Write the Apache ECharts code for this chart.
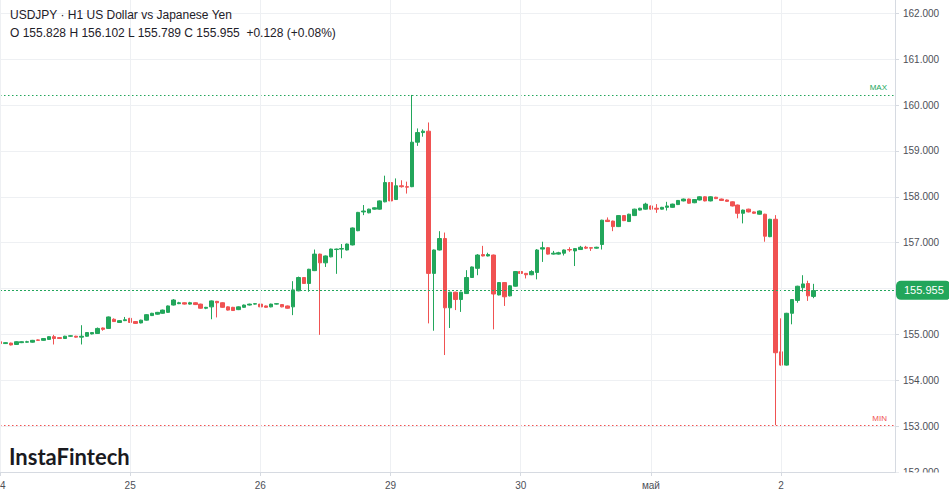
<!DOCTYPE html>
<html><head><meta charset="utf-8">
<script src="https://cdn.jsdelivr.net/npm/echarts@6/dist/echarts.min.js"></script>
<style>html,body{margin:0;padding:0;background:#fff;overflow:hidden}#c{width:949px;height:494px}</style>
</head><body><div id="c"></div>
<script>
// ---- data ----
const titleLine1 = 'USDJPY · H1 US Dollar vs Japanese Yen';
const titleLine2 = 'O 155.828 H 156.102 L 155.789 C 155.955  +0.128 (+0.08%)';
const brandText = 'InstaFintech';
const dayLabels = ['24', '25', '26', '29', '30', 'май', '2'];
const dayStartIndex = [0, 24, 48, 72, 96, 120, 144];
const slotCount = 166;
const yMin = 152, yMax = 162.29, yStep = 1;

const opens = [
154.84,154.80,154.81,154.78,154.82,154.83,154.83,154.88,154.87,154.89,
154.95,154.93,154.91,154.96,154.96,154.94,154.96,155.01,155.02,155.14,
155.13,155.33,155.26,155.30,155.35,155.28,155.25,155.31,155.41,155.44,
155.46,155.48,155.64,155.67,155.69,155.66,155.69,155.66,155.57,155.60,
155.72,155.69,155.60,155.59,155.54,155.59,155.64,155.66,155.66,155.62,
155.60,155.66,155.65,155.62,155.60,155.95,156.24,156.11,156.39,156.75,
156.56,156.69,156.85,156.86,156.84,156.95,157.26,157.67,157.65,157.73,
157.73,157.89,158.31,157.94,158.24,158.22,158.22,159.19,159.40,159.43,
156.33,156.84,157.09,155.58,155.92,155.76,155.89,156.24,156.44,156.74,
156.71,156.73,155.86,156.13,155.84,156.05,156.37,156.33,156.30,156.35,
156.86,156.89,156.75,156.75,156.77,156.85,156.82,156.85,156.90,156.89,
156.88,156.96,157.49,157.47,157.35,157.59,157.46,157.59,157.71,157.73,
157.80,157.75,157.73,157.77,157.77,157.83,157.91,157.95,157.87,157.93,
158.00,157.91,157.99,157.95,157.93,157.89,157.82,157.64,157.73,157.67,
157.62,157.62,157.13,157.51,154.62,154.33,155.46,155.74,156.02,156.11,
155.828];
const highs = [
154.85,154.83,154.82,154.85,154.85,154.86,154.88,154.89,154.92,154.96,
154.99,154.94,154.97,154.98,154.97,155.20,155.05,155.05,155.15,155.15,
155.39,155.35,155.31,155.38,155.36,155.29,155.32,155.44,155.47,155.49,
155.54,155.63,155.77,155.71,155.70,155.71,155.70,155.67,155.60,155.74,
155.73,155.70,155.61,155.60,155.61,155.65,155.67,155.68,155.67,155.63,
155.67,155.68,155.66,155.63,156.16,156.26,156.25,156.43,156.85,156.76,
156.72,156.87,156.87,156.97,156.98,157.33,157.67,157.82,157.74,157.77,
157.92,158.46,159.17,158.40,158.36,158.33,160.22,159.49,159.47,159.62,
156.85,157.25,157.22,155.93,155.93,155.93,156.40,156.48,156.75,156.93,
156.78,156.74,156.14,156.14,156.07,156.38,156.38,156.34,156.40,156.86,
157.02,156.90,156.82,156.80,156.85,156.90,156.88,156.93,156.93,156.90,
156.91,157.50,157.55,157.48,157.60,157.60,157.63,157.74,157.76,157.87,
157.81,157.84,157.78,157.89,157.85,157.93,157.96,157.96,157.95,158.01,
158.01,158.01,158.00,157.96,157.94,157.90,157.83,157.72,157.74,157.68,
157.70,157.63,157.52,157.60,155.35,155.47,155.77,156.06,156.29,156.17,
156.102];
const lows = [
154.79,154.79,154.76,154.77,154.81,154.82,154.82,154.86,154.86,154.88,
154.78,154.90,154.90,154.95,154.93,154.78,154.95,155.00,155.01,155.08,
155.12,155.27,155.25,155.29,155.25,155.23,155.24,155.30,155.40,155.43,
155.45,155.47,155.63,155.66,155.65,155.65,155.64,155.56,155.55,155.33,
155.37,155.58,155.52,155.51,155.53,155.58,155.63,155.65,155.59,155.58,
155.59,155.65,155.59,155.56,155.42,155.94,156.10,155.93,156.38,154.99,
156.47,156.68,156.32,156.66,156.83,156.94,157.25,157.60,157.64,157.72,
157.72,157.88,157.90,157.93,158.20,158.07,158.21,159.11,159.31,155.24,
155.08,156.83,154.55,155.14,155.53,155.49,155.88,156.23,156.29,156.70,
156.70,155.11,155.85,155.62,155.83,156.04,156.28,156.22,156.29,156.20,
156.58,156.74,156.74,156.74,156.72,156.80,156.49,156.84,156.86,156.82,
156.87,156.85,157.45,157.25,157.34,157.47,157.45,157.58,157.70,157.72,
157.72,157.65,157.72,157.70,157.76,157.82,157.90,157.85,157.86,157.92,
157.90,157.90,157.95,157.91,157.89,157.79,157.53,157.42,157.66,157.63,
157.61,157.02,157.12,153.02,154.32,154.32,155.22,155.69,155.93,155.73,
155.789];
const closes = [
154.80,154.82,154.77,154.84,154.84,154.84,154.87,154.87,154.91,154.95,
154.91,154.91,154.96,154.97,154.94,154.96,155.04,155.04,155.13,155.11,
155.38,155.28,155.30,155.32,155.26,155.24,155.31,155.43,155.46,155.48,
155.53,155.62,155.75,155.69,155.66,155.69,155.65,155.57,155.59,155.73,
155.69,155.59,155.53,155.52,155.60,155.64,155.66,155.67,155.60,155.59,
155.66,155.67,155.60,155.57,155.97,156.24,156.11,156.42,156.75,156.56,
156.71,156.86,156.86,156.87,156.97,157.32,157.66,157.69,157.73,157.76,
157.91,158.31,157.91,158.24,158.22,158.21,159.19,159.40,159.43,156.33,
156.84,157.09,155.58,155.92,155.76,155.92,156.24,156.47,156.73,156.71,
156.74,155.88,156.13,155.82,156.06,156.37,156.33,156.30,156.37,156.84,
156.89,156.75,156.77,156.78,156.84,156.84,156.87,156.90,156.88,156.88,
156.90,157.49,157.46,157.35,157.59,157.48,157.62,157.73,157.75,157.84,
157.73,157.73,157.77,157.80,157.84,157.92,157.95,157.86,157.94,158.00,
157.91,158.00,157.96,157.92,157.90,157.80,157.64,157.71,157.67,157.64,
157.69,157.14,157.51,154.60,154.33,155.46,155.76,156.05,156.10,155.84,
155.955];

// ---- style ----
const GREEN = '#22a65b';
const RED = '#f05252';
const GRID = '#eef0f3';
const AXIS = '#d6dae1';
const LABEL = '#4d4f57';

const categories = Array.from({length: slotCount}, (_, i) => String(i));
const candleData = opens.map((o, i) => [o, closes[i], lows[i], highs[i]]);
const maxHigh = Math.max(...highs);
const minLow = Math.min(...lows);
const lastClose = closes[closes.length - 1];
const isDayStart = (idx) => dayStartIndex.indexOf(idx) >= 0;

const chart = echarts.init(document.getElementById('c'), null, {renderer: 'svg'});
chart.setOption({
  animation: false,
  backgroundColor: '#ffffff',
  grid: {left: 0, right: 54, top: 0, bottom: 22, containLabel: false, outerBoundsMode: 'none'},
  xAxis: {
    type: 'category',
    data: categories,
    boundaryGap: false,
    axisLine: {show: true, lineStyle: {color: AXIS}},
    axisTick: {show: true, length: 4, interval: (i) => isDayStart(i), lineStyle: {color: AXIS}},
    axisLabel: {
      interval: (i) => isDayStart(i),
      formatter: (v, i) => { const k = dayStartIndex.indexOf(Number(v)); return k >= 0 ? dayLabels[k] : ''; },
      color: LABEL, fontSize: 10, margin: 8, fontFamily: 'Arial',
      hideOverlap: false
    },
    splitLine: {show: true, interval: (i) => isDayStart(i), lineStyle: {color: GRID}},
    z: 10
  },
  yAxis: {
    type: 'value',
    position: 'right',
    min: yMin, max: yMax, interval: yStep,
    axisLine: {show: true, lineStyle: {color: AXIS}},
    axisTick: {show: true, length: 4, lineStyle: {color: AXIS}},
    axisLabel: {
      color: LABEL, fontSize: 10, margin: 8, fontFamily: 'Arial',
      showMaxLabel: false,
      // the tick label hidden under the last-price badge is not drawn
      formatter: (v) => (Math.abs(v - Math.round(v)) < 1e-6 && Math.abs(v - lastClose) > 0.25) ? v.toFixed(3) : ''
    },
    splitLine: {show: true, showMaxLine: false, lineStyle: {color: GRID}}
  },
  series: [{
    type: 'candlestick',
    data: candleData,
    barWidth: 4,
    itemStyle: {color: GREEN, color0: RED, borderColor: GREEN, borderColor0: RED, borderWidth: 1},
    markLine: {
      silent: true,
      symbol: ['none', 'none'],
      animation: false,
      data: [
        {yAxis: maxHigh, lineStyle: {color: GREEN, type: [1.5, 2.5], width: 1.2},
         label: {formatter: 'MAX', position: 'insideEndTop', color: GREEN, fontSize: 8, distance: [8, 3], fontFamily: 'Arial'}},
        {yAxis: minLow, lineStyle: {color: RED, type: [1.5, 2.5], width: 1.2},
         label: {formatter: 'MIN', position: 'insideEndTop', color: RED, fontSize: 8, distance: [8, 3], fontFamily: 'Arial'}},
        {yAxis: lastClose, lineStyle: {color: GREEN, type: [2, 2], width: 1},
         label: {formatter: lastClose.toFixed(3), position: 'end', distance: 1, color: '#ffffff',
                 backgroundColor: GREEN, borderRadius: 5, padding: [4, 7, 4, 8], fontSize: 11, fontFamily: 'Arial'}}
      ]
    }
  }],
  graphic: [
    {type: 'text', x: 10, y: 9, z: 50, style: {text: titleLine1, font: '12px Arial', fill: '#1e2028'}},
    {type: 'text', x: 10, y: 27, z: 50, style: {text: titleLine2, font: '12px Arial', fill: '#1e2028'}},
    {type: 'text', x: 9, y: 445, z: 50, style: {text: brandText, font: 'bold 22px Lato', fill: '#1a1a1f'}},
    {type: 'rect', z: 100, shape: {x: 896, y: 472.5, width: 53, height: 22}, style: {fill: '#ffffff'}}
  ]
});
</script>
</body></html>
